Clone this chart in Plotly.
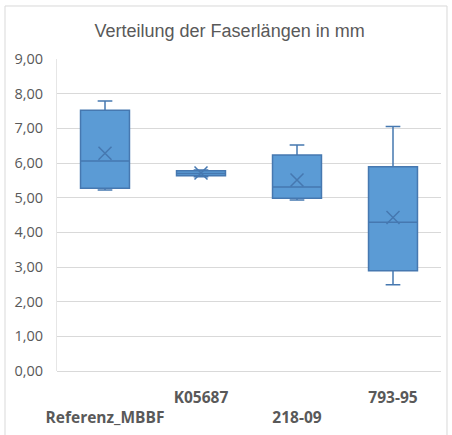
import plotly.graph_objects as go

categories = ["Referenz_MBBF", "K05687", "218-09", "793-95"]
lower = [5.22, 5.60, 4.93, 2.49]
q1 = [5.27, 5.63, 4.98, 2.89]
median = [6.06, 5.70, 5.31, 4.29]
q3 = [7.52, 5.78, 6.23, 5.89]
upper = [7.79, 5.80, 6.52, 7.05]
mean = [6.28, 5.71, 5.51, 4.43]
y_ticks = [0, 1, 2, 3, 4, 5, 6, 7, 8, 9]

tick_text = [("<br>" + c) if i % 2 == 0 else c for i, c in enumerate(categories)]

fill = "#5B9BD5"
edge = "#4678B0"

fig = go.Figure()
fig.add_trace(go.Box(
    x=categories, q1=q1, median=median, q3=q3,
    lowerfence=lower, upperfence=upper,
    fillcolor=fill, line=dict(color=edge, width=1.5),
    width=0.51, whiskerwidth=0.3, boxpoints=False,
    hoverinfo="skip", showlegend=False,
))
fig.add_trace(go.Scatter(
    x=categories, y=mean, mode="markers",
    marker=dict(symbol="x-thin-open", size=13, color=edge,
                line=dict(color=edge, width=1.5)),
    showlegend=False, hoverinfo="skip",
))

grey = "#595959"
fig.update_layout(
    width=452, height=435,
    margin=dict(l=57, r=11, t=59, b=64),
    paper_bgcolor="white", plot_bgcolor="white",
    separators=",.",
    title=dict(text="Verteilung der Faserlängen in mm", x=0.508, xanchor="center",
               y=0.93, yanchor="middle",
               font=dict(family="Liberation Sans", size=18, color=grey)),
    xaxis=dict(type="category", categoryorder="array", categoryarray=categories,
               tickvals=categories, ticktext=tick_text, showgrid=False,
               showline=False, zeroline=False, ticks="", ticklabelstandoff=15,
               automargin=False,
               tickfont=dict(family="Open Sans", size=15.5, color=grey, weight="bold"),
               range=[-0.5, 3.5]),
    yaxis=dict(range=[0, 9], tickvals=y_ticks, tickformat=".2f",
               showgrid=True, gridcolor="#D9D9D9", gridwidth=1,
               zeroline=True, zerolinecolor="#D9D9D9", zerolinewidth=1,
               showline=True, linecolor="#E6E6E6", linewidth=1,
               ticks="", ticklabelstandoff=10, automargin=False,
               tickfont=dict(family="Open Sans", size=14.5, color=grey)),
    shapes=[dict(type="rect", xref="paper", yref="paper",
                 x0=-0.1354, x1=1.0156, y0=-0.35, y1=1.1699,
                 line=dict(color="#D9D9D9", width=1), layer="below")],
)
fig.write_html("out.html")
